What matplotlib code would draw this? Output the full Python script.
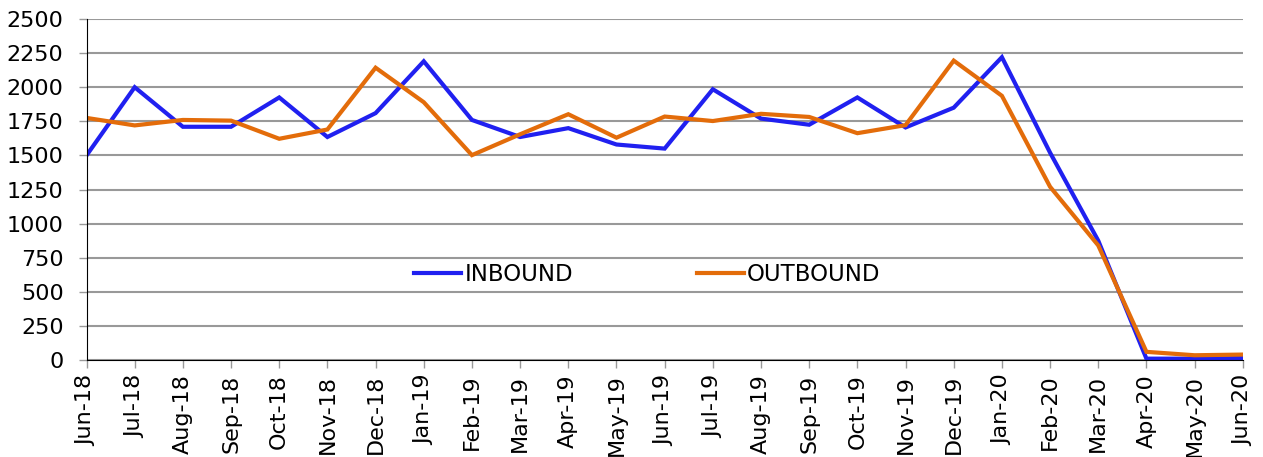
import numpy as np
from matplotlib import pyplot as plt, rcParams

rcParams['font.family'] = ['DejaVu Sans']

months = ['Jun-18', 'Jul-18', 'Aug-18', 'Sep-18', 'Oct-18', 'Nov-18', 'Dec-18',
          'Jan-19', 'Feb-19', 'Mar-19', 'Apr-19', 'May-19', 'Jun-19', 'Jul-19',
          'Aug-19', 'Sep-19', 'Oct-19', 'Nov-19', 'Dec-19', 'Jan-20', 'Feb-20',
          'Mar-20', 'Apr-20', 'May-20', 'Jun-20']
inbound = [1500, 2000, 1710, 1710, 1925, 1635, 1810, 2190, 1760, 1635, 1700, 1580,
           1550, 1985, 1770, 1725, 1925, 1705, 1850, 2220, 1520, 875, 10, 10, 15]
outbound = [1775, 1720, 1760, 1755, 1622, 1690, 2143, 1890, 1502, 1655, 1802, 1630,
            1785, 1752, 1805, 1782, 1663, 1722, 2195, 1937, 1270, 840, 60, 35, 40]

fig = plt.figure(figsize=(12.63, 4.57), dpi=100)
ax = fig.add_axes([0.0685, 0.2122, 0.9155, 0.7462])

x = np.arange(len(months))
ax.plot(x, inbound, color='#2020F0', linewidth=3, label='INBOUND', solid_joinstyle='miter')
ax.plot(x, outbound, color='#E36C0A', linewidth=3, label='OUTBOUND', solid_joinstyle='miter')

ax.set_xlim(0, len(months) - 1)
ax.set_ylim(0, 2500)
ax.set_yticks(np.arange(0, 2501, 250))
ax.set_xticks(x)
ax.set_xticklabels(months, rotation=90)
ax.tick_params(axis='both', labelsize=16, color='#999999', length=5.5, width=1)
ax.tick_params(axis='x', pad=5)
ax.tick_params(axis='y', pad=11)
ax.yaxis.grid(True, color='#999999', linewidth=1.5)
ax.set_axisbelow(True)

for s in ['top', 'right']:
    ax.spines[s].set_visible(False)
ax.spines['left'].set_color('black')
ax.spines['bottom'].set_color('black')
ax.spines['left'].set_zorder(3)

ax.legend(loc='center', bbox_to_anchor=(0.485, 0.252), ncol=2, frameon=False,
          fontsize=16.5, handlelength=2.05, handletextpad=0.13, columnspacing=5.4)

plt.savefig('out.png', dpi=100)
